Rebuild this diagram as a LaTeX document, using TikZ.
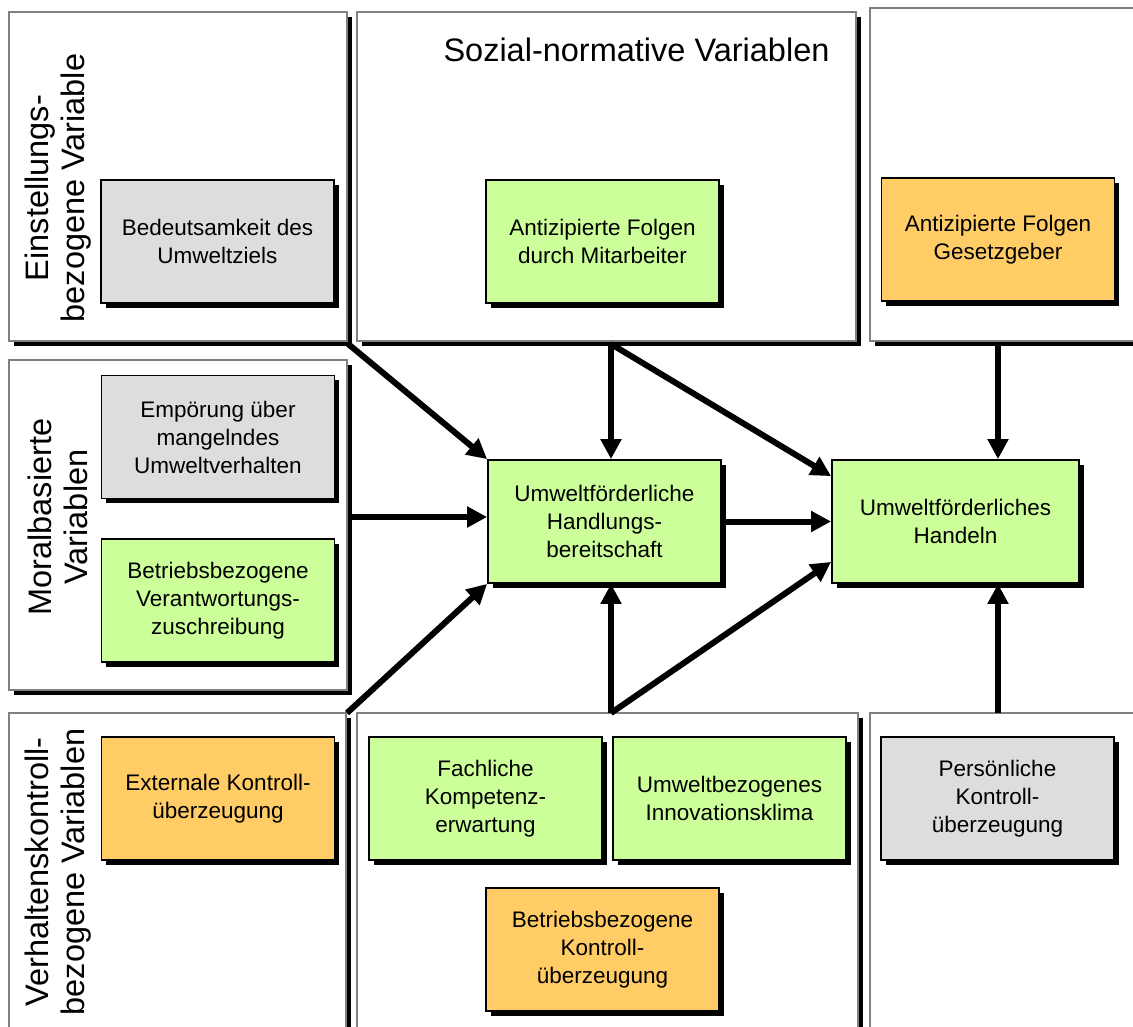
\documentclass[tikz,border=0pt]{standalone}
\usepackage{fontspec}
\setmainfont{Liberation Sans}
\usetikzlibrary{arrows.meta,shadows,calc}

\definecolor{boxgreen}{HTML}{CCFF99}
\definecolor{boxgrey}{HTML}{DDDDDD}
\definecolor{boxorange}{HTML}{FFCC66}
\definecolor{panelline}{HTML}{808080}

\tikzset{
  panel/.style={draw=panelline, fill=white, line width=1.3pt,
    general shadow={fill=black, shadow xshift=5pt, shadow yshift=-5pt}},
  varbox/.style={draw=black, line width=1.8pt, inner sep=0pt,
    minimum width=233pt, minimum height=123pt, align=center,
    font=\fontsize{22.5}{28}\selectfont,
    general shadow={fill=black, shadow xshift=4.5pt, shadow yshift=-4.5pt}},
  green/.style={varbox, fill=boxgreen},
  grey/.style={varbox, fill=boxgrey},
  orange/.style={varbox, fill=boxorange},
  paneltitle/.style={align=center, inner sep=0pt,
    font=\fontsize{32.5}{36}\selectfont},
  flow/.style={line width=6pt, -{Triangle[length=20pt,width=20pt]}}
}

\begin{document}
\begin{tikzpicture}[x=1pt,y=-1pt]
\useasboundingbox (0,0) rectangle (1133,1026);
\clip (0,0) rectangle (1133,1026);

% group panels
\draw[panel] (9,12) rectangle (347,341);
\draw[panel] (357,12) rectangle (856,341);
\draw[panel] (870,8) rectangle (1150,341);
\draw[panel] (9,360) rectangle (347,690);
\draw[panel] (9,713) rectangle (346,1050);
\draw[panel] (357,713) rectangle (858,1050);
\draw[panel] (870,713) rectangle (1150,1050);

% panel titles
\node[paneltitle] (tsoz) at (636.5,50) {Sozial-normative Variablen};
\node[paneltitle, rotate=90] (tein) at (58,188) {Einstellungs-\\bezogene Variable};
\node[paneltitle, rotate=90] (tmor) at (58,517) {Moralbasierte\\Variablen};
\node[paneltitle, rotate=90] (tver) at (58,872) {Verhaltenskontroll-\\bezogene Variablen};

% variable boxes
\node[grey]   (bed) at (217.5,241.5) {Bedeutsamkeit des\\Umweltziels};
\node[green]  (mit) at (602.5,241.5) {Antizipierte Folgen\\durch Mitarbeiter};
\node[orange] (ges) at (998,239.5)   {Antizipierte Folgen\\Gesetzgeber};
\node[grey]   (emp) at (218,437)     {Empörung über\\mangelndes\\Umweltverhalten};
\node[green]  (ver) at (218,600.5)   {Betriebsbezogene\\Verantwortungs-\\zuschreibung};
\node[green]  (hb)  at (604.5,521.5) {Umweltförderliche\\Handlungs-\\bereitschaft};
\node[green, minimum width=247pt] (han) at (955.5,521.5) {Umweltförderliches\\Handeln};
\node[orange] (ext) at (218,798.5)   {Externale Kontroll-\\überzeugung};
\node[green]  (fac) at (485.5,798.5) {Fachliche\\Kompetenz-\\erwartung};
\node[green]  (inn) at (729.5,798.5) {Umweltbezogenes\\Innovationsklima};
\node[orange] (bko) at (602.5,949.5) {Betriebsbezogene\\Kontroll-\\überzeugung};
\node[grey]   (per) at (997.5,798.5) {Persönliche\\Kontroll-\\überzeugung};

% connector anchors on the panel edges
\coordinate (jA) at (347,343);
\coordinate (jB) at (611,344);
\coordinate (jC) at (998,344);
\coordinate (jD) at (351,517);
\coordinate (jE) at (347,713);
\coordinate (jF) at (611,713);
\coordinate (jG) at (998,713);

% influences
\draw[flow] (jA) -- (hb.north west);
\draw[flow] (jB) -- (hb.north -| jB);
\draw[flow] (jB) -- ([yshift=-17pt]han.north west);
\draw[flow] (jD) -- (hb.west |- jD);
\draw[flow] (jE) -- (hb.south west);
\draw[flow] (jF) -- (hb.south -| jF);
\draw[flow] (jF) -- ([yshift=22pt]han.south west);
\draw[flow] ([xshift=4pt]hb.east) -- (han.west);
\draw[flow] (jC) -- (han.north -| jC);
\draw[flow] (jG) -- (han.south -| jG);
\end{tikzpicture}
\end{document}
